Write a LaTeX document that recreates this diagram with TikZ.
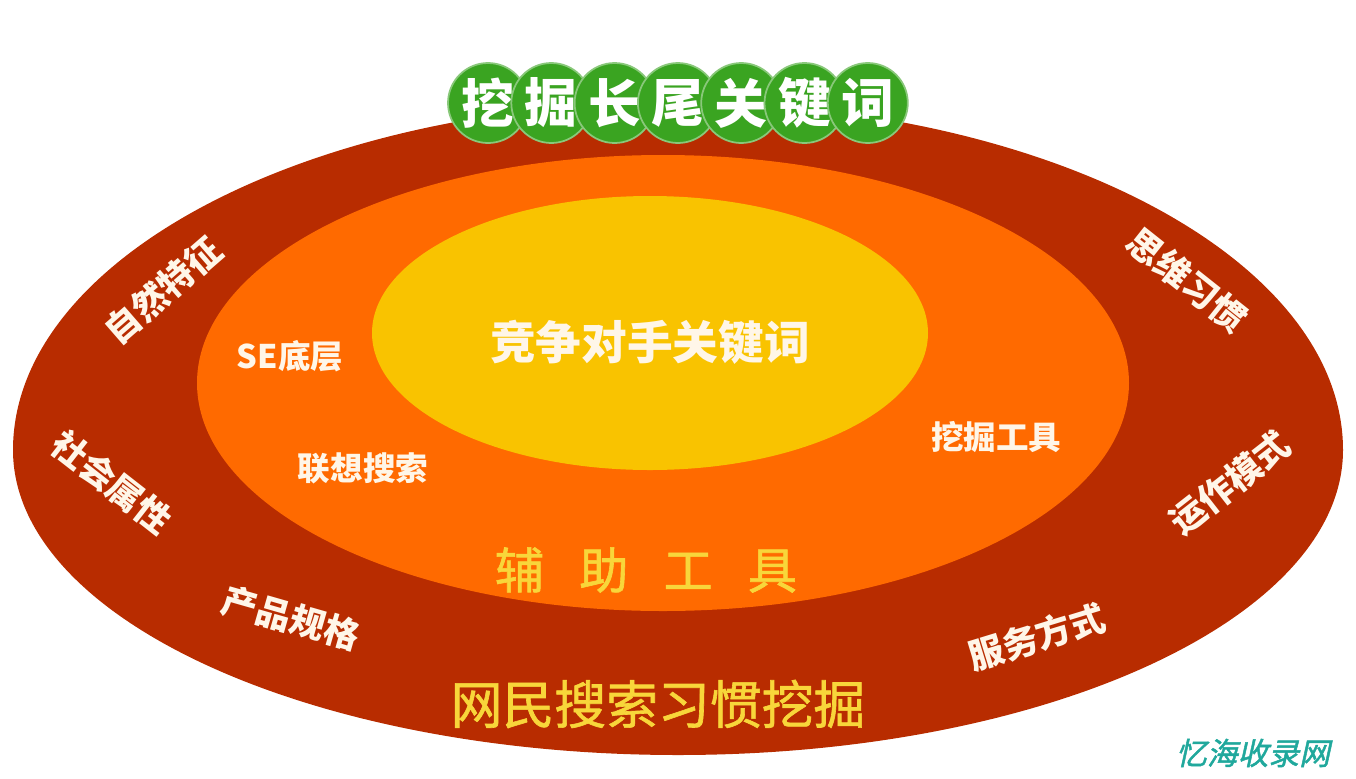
\documentclass[tikz,border=0pt]{standalone}
\usepackage{fontspec}
\newfontfamily\cjk{Noto Sans CJK SC}
\newfontfamily\cjkmid[FakeBold=1.2]{Noto Sans CJK SC}
\newfontfamily\markfont[FakeSlant=0.22,FakeBold=1.5]{Noto Sans CJK SC}
\definecolor{ringred}{HTML}{B82C00}
\definecolor{ringorange}{HTML}{FF6A00}
\definecolor{coreyellow}{HTML}{F9C300}
\definecolor{ballgreen}{HTML}{3AA421}
\definecolor{textyellow}{HTML}{F8D63A}
\definecolor{textcream}{HTML}{FFF6E8}
\definecolor{markteal}{HTML}{20A89C}
\tikzset{
	greenball/.style={circle, fill=ballgreen, draw=ballgreen!60!white, line width=1pt,
			minimum size=1.6cm, inner sep=0pt, text=white,
			font=\cjk\bfseries\fontsize{30pt}{30pt}\selectfont},
	ringlabel/.style={inner sep=0pt, text=textcream,
			font=\cjk\bfseries\fontsize{20pt}{20pt}\selectfont},
	toollabel/.style={inner sep=0pt, text=textcream,
			font=\cjk\bfseries\fontsize{18.5pt}{18.5pt}\selectfont},
	yellowlabel/.style={inner sep=0pt, text=textyellow}
}
\begin{document}
\begin{tikzpicture}[x=0.02cm,y=-0.02cm]
	\useasboundingbox (0,0) rectangle (1356,778);

	% three rings
	\fill[ringred] (13,450) arc[start angle=180, end angle=360, x radius=665, y radius=348]
		arc[start angle=0, end angle=180, x radius=665, y radius=305] -- cycle;
	\fill[ringorange] (663,383) ellipse [x radius=466, y radius=228];
	\fill[coreyellow] (650,333) ellipse [x radius=278, y radius=137];

	% title balls
	\foreach \ch [count=\i] in {挖,掘,长,尾,关,键,词}
		\node[greenball] (ball\i) at ({488+63.3*(\i-1)},103) {\ch};

	% core
	\node[inner sep=0pt, text=textcream, font=\cjk\bfseries\fontsize{26pt}{26pt}\selectfont]
		(core) at (650,342) {竞争对手关键词};

	% middle ring
	\node[toollabel] (se) at (290,356) {SE底层};
	\node[toollabel] (assoc) at (363,468) {联想搜索};
	\node[toollabel] (mine) at (996,437) {挖掘工具};
	\node[yellowlabel, font=\cjkmid\fontsize{28pt}{28pt}\selectfont]
		(aid) at (646,570) {辅\hspace{20pt}助\hspace{20pt}工\hspace{20pt}具};

	% outer ring
	\node[ringlabel, rotate=41] (nature) at (163,290) {自然特征};
	\node[ringlabel, rotate=-38] (social) at (112,482) {社会属性};
	\node[ringlabel, rotate=-16] (product) at (291,618) {产品规格};
	\node[ringlabel, rotate=-38.5] (think) at (1187,280) {思维习惯};
	\node[ringlabel, rotate=38] (operate) at (1230,483) {运作模式};
	\node[ringlabel, rotate=17] (service) at (1037,637) {服务方式};
	\node[yellowlabel, font=\cjkmid\fontsize{29.5pt}{29.5pt}\selectfont]
		(habit) at (658,704) {网民搜索习惯挖掘};

	% watermark
	\node[inner sep=0pt, text=markteal, font=\markfont\fontsize{17.5pt}{17.5pt}\selectfont]
		(mark) at (1253,753) {忆海收录网};
\end{tikzpicture}
\end{document}
